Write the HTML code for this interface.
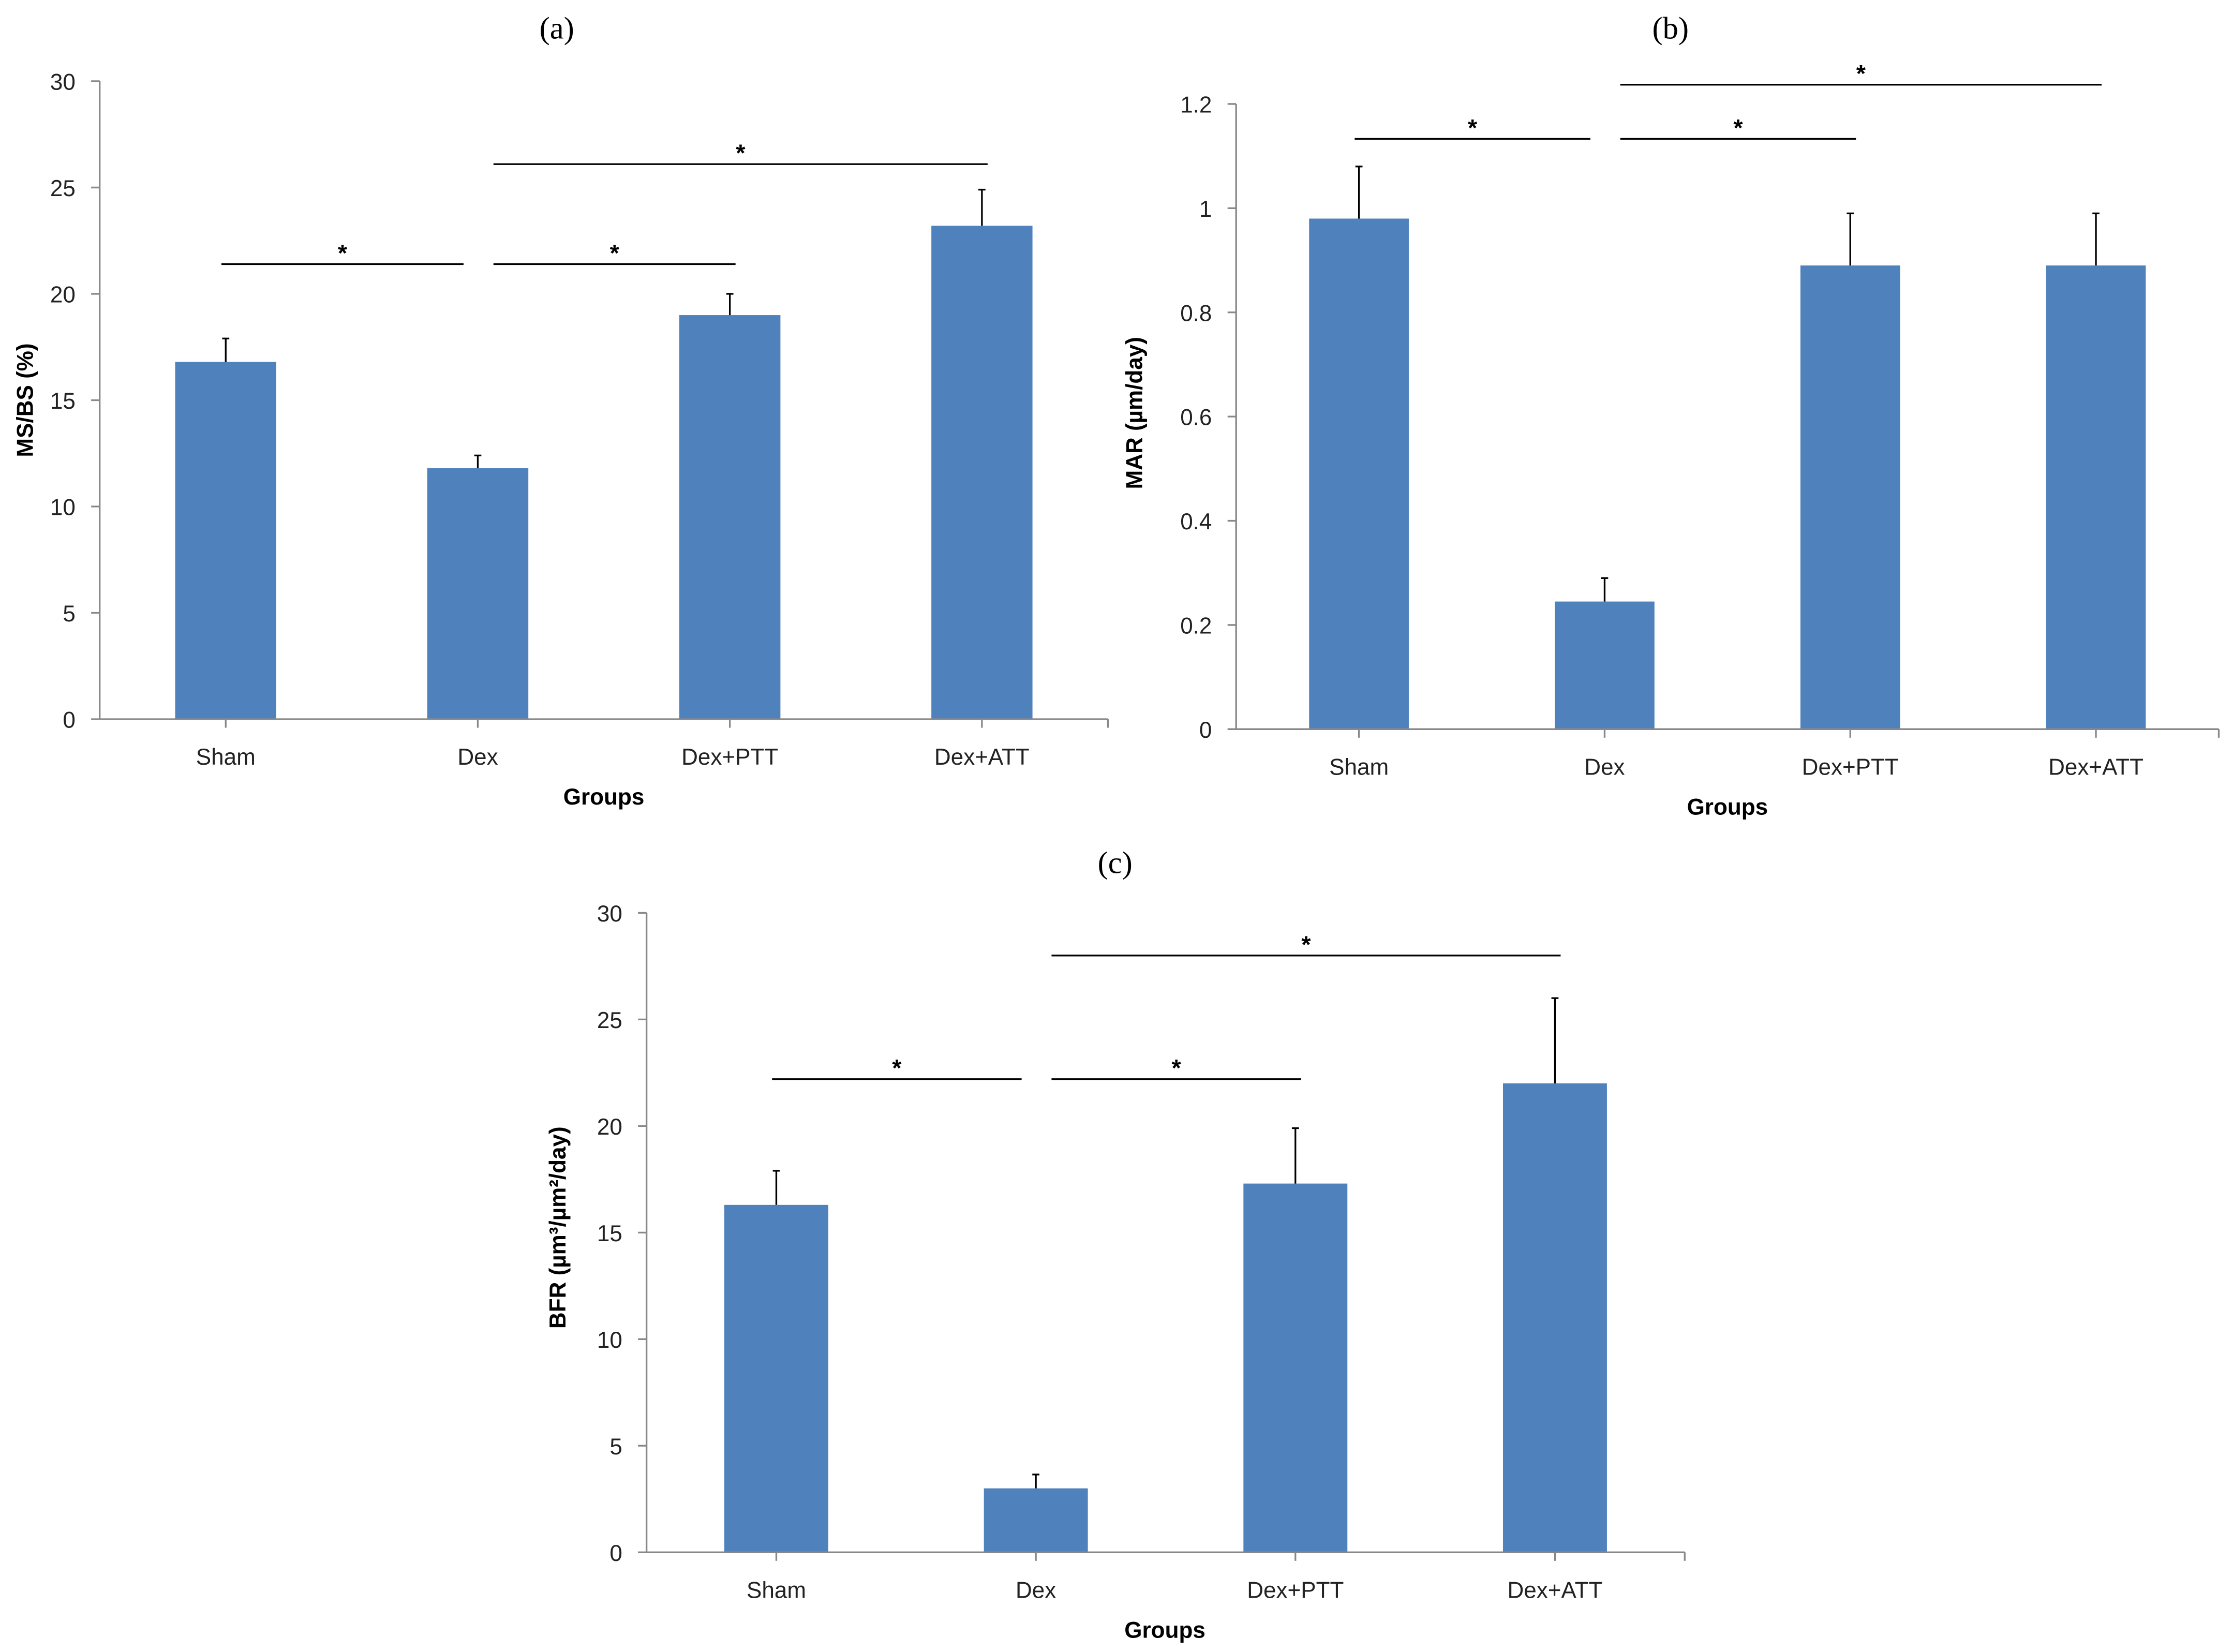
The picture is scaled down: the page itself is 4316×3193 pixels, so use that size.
<!DOCTYPE html>
<html><head><meta charset="utf-8"><style>
html,body{margin:0;padding:0;background:#fff;}
svg{display:block;}
</style></head><body>
<svg id="fig" width="4316" height="3193" viewBox="0 0 1568 1160" xmlns="http://www.w3.org/2000/svg"></svg>
<script>
const categories = ["Sham", "Dex", "Dex+PTT", "Dex+ATT"];
const msbsValues = [16.8, 11.8, 19.0, 23.2];
const msbsErrTop = [17.9, 12.4, 20.0, 24.9];
const msbsTicks = ["0","5","10","15","20","25","30"];
const marValues = [0.98, 0.245, 0.89, 0.89];
const marErrTop = [1.08, 0.29, 0.99, 0.99];
const marTicks = ["0","0.2","0.4","0.6","0.8","1","1.2"];
const bfrValues = [16.3, 3.0, 17.3, 22.0];
const bfrErrTop = [17.9, 3.65, 19.9, 26.0];
const bfrTicks = ["0","5","10","15","20","25","30"];
// significance brackets: [fromCategory, toCategory, value level]
const msbsSig = [[0,1,21.4],[1,2,21.4],[1,3,26.1]];
const marSig = [[0,1,1.133],[1,2,1.133],[1,3,1.237]];
const bfrSig = [[0,1,22.2],[1,2,22.2],[1,3,28.0]];

const NS = "http://www.w3.org/2000/svg";
const svg = document.getElementById("fig");
function mk(tag, attrs, parent, text){
  const e = document.createElementNS(NS, tag);
  for (const k in attrs) e.setAttribute(k, attrs[k]);
  if (text !== undefined) e.textContent = text;
  (parent || svg).appendChild(e);
  return e;
}
const FONT = "Liberation Sans, DejaVu Sans, sans-serif";

function chart(cfg){
  const g = mk("g", {});
  
  
  const ymax = cfg.ymax;
  const y = v => cfg.y0 - (v / ymax) * (cfg.y0 - cfg.yTop);
  const step = (cfg.xEnd - cfg.x0) / categories.length;
  const x = i => cfg.x0 + step * (i + 0.5);
  // panel title
  const t = mk("text", {x: cfg.titleX, y: cfg.titleY, "font-family": "Liberation Serif, serif", "font-size": 22, "text-anchor": "middle"}, g, cfg.title);
  
  
  // bars
  cfg.values.forEach((v, i) => {
    const b = mk("rect", {x: x(i) - cfg.bw/2, y: y(v), width: cfg.bw, height: y(0) - y(v), fill: "#4f81bd"}, g);
    
    
    const e = mk("line", {x1: x(i), x2: x(i), y1: y(v), y2: y(cfg.err[i]), stroke: "#000", "stroke-width": 1.2}, g);
    
    
    const c = mk("line", {x1: x(i) - 2.5, x2: x(i) + 2.5, y1: y(cfg.err[i]), y2: y(cfg.err[i]), stroke: "#000", "stroke-width": 1.2}, g);
    
    
  });
  // axes
  const ya = mk("line", {x1: cfg.x0, x2: cfg.x0, y1: cfg.yTop, y2: cfg.y0, stroke: "#888", "stroke-width": 1.2}, g);
  
  
  const xa = mk("line", {x1: cfg.x0, x2: cfg.xEnd, y1: cfg.y0, y2: cfg.y0, stroke: "#888", "stroke-width": 1.2}, g);
  
  
  cfg.ticks.forEach((lab, k) => {
    const v = ymax * k / (cfg.ticks.length - 1);
    mk("line", {x1: cfg.x0 - 6, x2: cfg.x0, y1: y(v), y2: y(v), stroke: "#888", "stroke-width": 1.2}, g);
    const tl = mk("text", {x: cfg.x0 - 17, y: y(v) + 6, "font-family": FONT, "font-size": 16, "text-anchor": "end", fill: "#222"}, g, lab);
    
    
  });
  for (let i = 0; i <= categories.length; i++) {
    const tx = i < categories.length ? x(i) : cfg.xEnd;
    mk("line", {x1: tx, x2: tx, y1: cfg.y0, y2: cfg.y0 + 6, stroke: "#888", "stroke-width": 1.2}, g);
  }
  categories.forEach((c, i) => {
    const tl = mk("text", {x: x(i), y: cfg.y0 + 32, "font-family": FONT, "font-size": 16, "text-anchor": "middle", fill: "#222"}, g, c);
    
    
  });
  const xt = mk("text", {x: cfg.xTitleX, y: cfg.y0 + 60, "font-family": FONT, "font-size": 16, "font-weight": "bold", "text-anchor": "middle"}, g, "Groups");
  
  
  const yt = mk("text", {x: 0, y: 0, transform: `translate(${cfg.yTitleX},${cfg.yTitleY}) rotate(-90)`, "font-family": FONT, "font-size": 16, "font-weight": "bold", "text-anchor": "middle"}, g, cfg.yTitle);
  
  
  // significance brackets
  cfg.sig.forEach(s => {
    const xa1 = x(s[0]) - 3, xb1 = x(s[1]) + 3 - (s[1] - s[0] === 1 ? 12 : 0);
    const x1 = s[0] === 0 ? x(0) - 3 : x(s[0]) + 11;
    const x2 = x(s[1]) + (s[1] === 3 ? 4 : 4);
    const x2b = s[0] === 0 ? x(s[1]) - 10 : x2;
    const ln = mk("line", {x1: x1, x2: x2b, y1: y(s[2]), y2: y(s[2]), stroke: "#000", "stroke-width": 1.2}, g);
    
    
    const st = mk("text", {x: (x1 + x2b) / 2, y: y(s[2]) - 2, "font-family": FONT, "font-size": 17, "font-weight": "bold", "text-anchor": "middle"}, g, "*");
    
    
  });
}

chart({name: "chart-msbs", title: "(a)", titleX: 391, titleY: 27, x0: 70, xEnd: 778, y0: 505, yTop: 57, ymax: 30,
  bw: 71, values: msbsValues, err: msbsErrTop, ticks: msbsTicks, sig: msbsSig,
  yTitle: "MS/BS (%)", yTitleX: 23, yTitleY: 281, xTitleX: 424});
chart({name: "chart-mar", title: "(b)", titleX: 1173, titleY: 27, x0: 868, xEnd: 1558, y0: 512, yTop: 73, ymax: 1.2,
  bw: 70, values: marValues, err: marErrTop, ticks: marTicks, sig: marSig,
  yTitle: "MAR (µm/day)", yTitleX: 802, yTitleY: 290, xTitleX: 1213});
chart({name: "chart-bfr", title: "(c)", titleX: 783, titleY: 613, x0: 454, xEnd: 1183, y0: 1090, yTop: 641, ymax: 30,
  bw: 73, values: bfrValues, err: bfrErrTop, ticks: bfrTicks, sig: bfrSig,
  yTitle: "BFR (µm³/µm²/day)", yTitleX: 397, yTitleY: 862, xTitleX: 818});
</script>
</body></html>
